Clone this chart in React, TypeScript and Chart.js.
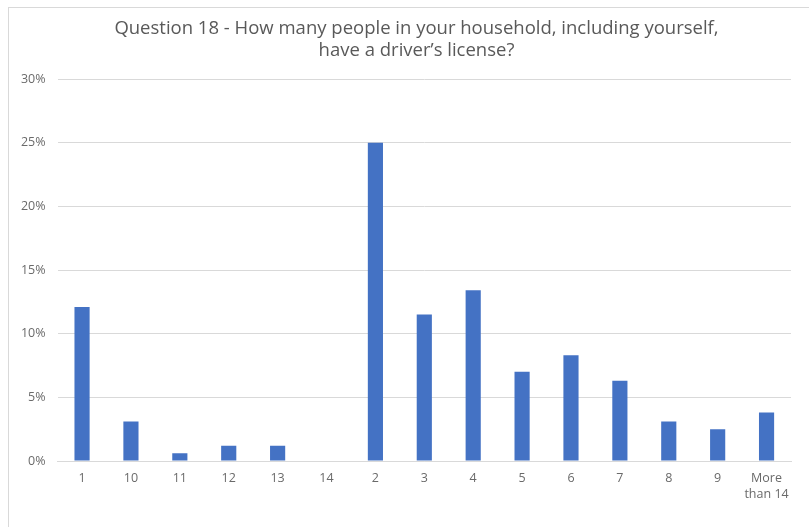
import React, { useEffect, useRef } from "react";
import { Chart, registerables } from "chart.js";

Chart.register(...registerables);

const categories: (string | string[])[] = ["1", "10", "11", "12", "13", "14", "2", "3", "4", "5", "6", "7", "8", "9", ["More", "than 14"]];
const values: number[] = [12.1, 3.1, 0.6, 1.2, 1.2, 0, 25.0, 11.5, 13.4, 7.0, 8.3, 6.3, 3.1, 2.5, 3.8];
const titleLines: string[] = [
  "Question 18 - How many people in your household, including yourself,",
  "have a driver\u2019s license?",
];
const yMax = 30;
const yStep = 5;

const titlePlugin = {
  id: "offsetTitle",
  afterDraw(chart: any) {
    const ctx = chart.ctx;
    ctx.save();
    ctx.font = "normal 18.5px 'Open Sans', sans-serif";
    ctx.fillStyle = "#595959";
    ctx.textAlign = "center";
    ctx.textBaseline = "middle";
    titleLines.forEach((line, i) => {
      ctx.fillText(line, 416.5, 28.5 + i * 22);
    });
    ctx.restore();
  },
};

export default function App() {
  const ref = useRef<HTMLCanvasElement | null>(null);
  useEffect(() => {
    if (!ref.current) return;
    const chart = new Chart(ref.current, {
      type: "bar",
      data: {
        labels: categories,
        datasets: [
          {
            data: values,
            backgroundColor: "#4472C4",
            borderWidth: 0,
            barPercentage: 0.31,
            categoryPercentage: 1,
          },
        ],
      },
      plugins: [titlePlugin],
      options: {
        animation: false,
        responsive: false,
        maintainAspectRatio: false,
        layout: { padding: { top: 79, left: 0, right: 18, bottom: 0 } },
        plugins: {
          legend: { display: false },
          tooltip: { enabled: false },
          title: { display: false },
        },
        scales: {
          x: {
            grid: { display: false, drawTicks: false },
            border: { display: true, color: "#d9d9d9", width: 1 },
            ticks: {
              color: "#6a6a6a",
              font: { family: "'Open Sans', sans-serif", size: 12.5, lineHeight: 1.3 },
              padding: 9,
              maxRotation: 0,
              autoSkip: false,
            },
            afterFit: (s: any) => {
              s.height = 66;
            },
          },
          y: {
            min: 0,
            max: yMax,
            grid: { color: "#d9d9d9", drawTicks: false },
            border: { display: false },
            ticks: {
              stepSize: yStep,
              color: "#6a6a6a",
              font: { family: "'Open Sans', sans-serif", size: 12.5 },
              padding: 12,
              callback: (v: any) => v + "%",
            },
            afterFit: (s: any) => {
              s.width = 57.6;
            },
          },
        },
      },
    });
    return () => chart.destroy();
  }, []);
  return (
    <div style={{ position: "fixed", left: 0, top: 0, width: 809, height: 527, background: "#fff" }}>
      <div style={{ position: "absolute", left: 8, top: 7, right: 0, bottom: 0, borderTop: "1px solid #d9d9d9", borderLeft: "1px solid #d9d9d9" }} />
      <canvas ref={ref} width={809} height={527} style={{ position: "absolute", left: 0, top: 0 }} />
    </div>
  );
}
